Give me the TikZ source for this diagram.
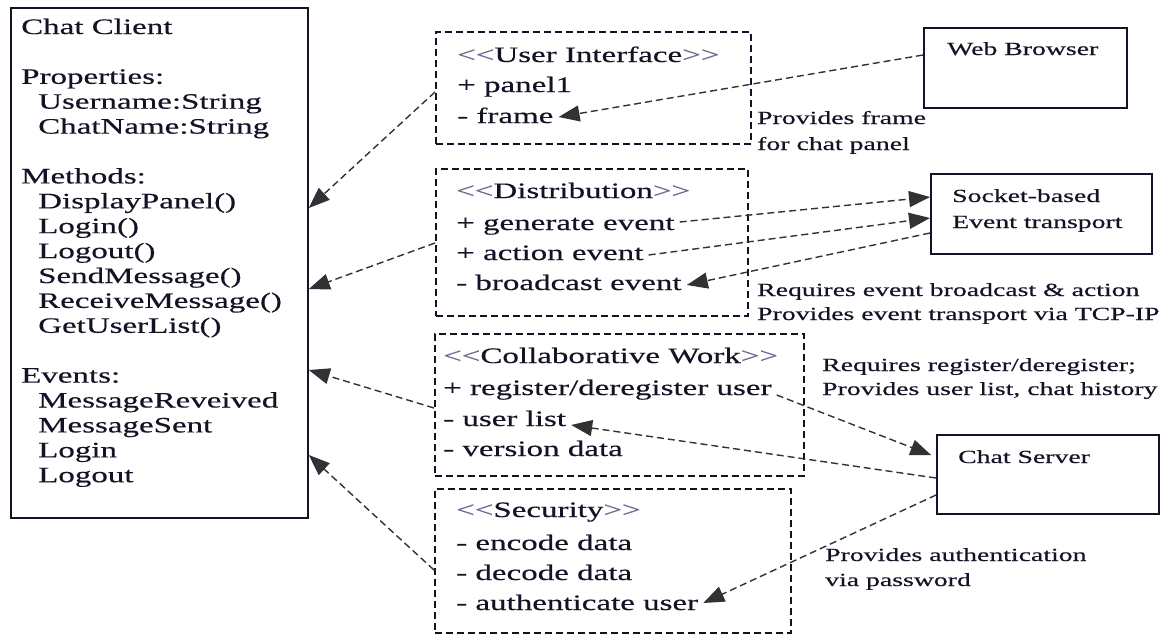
\documentclass[tikz,border=0pt]{standalone}
\usepackage{fontspec}
\setmainfont{Liberation Serif}[FakeStretch=1.5, FakeBold=0.4]
\usetikzlibrary{arrows.meta}

\definecolor{ink}{RGB}{22,18,38}
\definecolor{guil}{RGB}{110,105,145}
\definecolor{wire}{RGB}{50,50,50}

% stereotype name between light double angle brackets
\newcommand\stereo[1]{{\color{guil}<\kern0pt<}#1{\color{guil}>\kern0pt>}}

\begin{document}
\begin{tikzpicture}[x=1pt,y=-1pt,
  solidbox/.style={draw=ink, line width=1.8pt, inner sep=0pt, anchor=north west},
  dashbox/.style={draw=ink, line width=1.6pt, dash pattern=on 7pt off 4pt, inner sep=0pt, anchor=north west},
  txt/.style={anchor=base west, inner xsep=5pt, inner ysep=0pt, text=ink, font=\fontsize{22}{25}\selectfont},
  note/.style={anchor=base west, inner sep=0pt, text=ink, font=\fontsize{18.5}{24}\selectfont},
  dep/.style={draw=wire, line width=1.4pt, dash pattern=on 7pt off 4pt,
              -{Triangle[length=21pt,width=16pt]}}
]
\fill[white] (0,0) rectangle (1172,635);
\useasboundingbox (0,0) rectangle (1172,635);

% ---- component boxes
\node[solidbox, minimum width=297pt, minimum height=510pt] (client) at (10,7) {};
\node[dashbox, minimum width=315pt, minimum height=112pt] (ui) at (435,31) {};
\node[dashbox, minimum width=312pt, minimum height=147pt] (dist) at (435,168) {};
\node[dashbox, minimum width=369pt, minimum height=142pt] (collab) at (434,333) {};
\node[dashbox, minimum width=356pt, minimum height=144pt] (sec) at (434,488) {};
\node[solidbox, minimum width=203pt, minimum height=80pt] (wb) at (923,27) {};
\node[solidbox, minimum width=221pt, minimum height=80pt] (sock) at (930,173) {};
\node[solidbox, minimum width=222pt, minimum height=79pt] (srv) at (936,434) {};

% ---- chat client contents
\node[txt] (cc0)  at (16,34)    {Chat Client};
\node[txt] (cc1)  at (16,83.8)  {Properties:};
\node[txt] (cc2)  at (33,108.7) {Username:String};
\node[txt] (cc3)  at (33,133.6) {ChatName:String};
\node[txt] (cc4)  at (16,183.4) {Methods:};
\node[txt] (cc5)  at (33,208.3) {DisplayPanel()};
\node[txt] (cc6)  at (33,233.2) {Login()};
\node[txt] (cc7)  at (33,258.1) {Logout()};
\node[txt] (cc8)  at (33,283)   {SendMessage()};
\node[txt] (cc9)  at (33,307.9) {ReceiveMessage()};
\node[txt] (cc10) at (33,332.8) {GetUserList()};
\node[txt] (cc11) at (16,382.6) {Events:};
\node[txt] (cc12) at (33,407.5) {MessageReveived};
\node[txt] (cc13) at (33,432.4) {MessageSent};
\node[txt] (cc14) at (33,457.3) {Login};
\node[txt] (cc15) at (33,482.2) {Logout};

% ---- user interface
\node[txt] (ui0)   at (452,62)  {\stereo{User Interface}};
\node[txt] (panel) at (452,92)  {+ panel1};
\node[txt] (frame) at (452,123) {- frame};

% ---- distribution
\node[txt] (dist0) at (451,198) {\stereo{Distribution}};
\node[txt] (gen)   at (451,230) {+ generate event};
\node[txt] (act)   at (451,260) {+ action event};
\node[txt] (bcast) at (451,290) {- broadcast event};

% ---- collaborative work
\node[txt] (col0)  at (438,363) {\stereo{Collaborative Work}};
\node[txt] (reg)   at (438,395) {+ register/deregister user};
\node[txt] (ulist) at (438,426) {- user list};
\node[txt] (vdata) at (438,456) {- version data};

% ---- security
\node[txt] (sec0)  at (451,517) {\stereo{Security}};
\node[txt] (enc)   at (451,550) {- encode data};
\node[txt] (dec)   at (451,580) {- decode data};
\node[txt] (auth)  at (451,610) {- authenticate user};

% ---- external components
\node[note] (wbt)  at (947,55)  {Web Browser};
\node[note] (sk1)  at (952,202) {Socket-based};
\node[note] (sk2)  at (952,228) {Event transport};
\node[note] (srvt) at (958,463) {Chat Server};

% ---- annotations
\node[note] (n1) at (757,124) {Provides frame};
\node[note] (n2) at (757,150) {for chat panel};
\node[note] (n3) at (757,296) {Requires event broadcast \& action};
\node[note] (n4) at (757,320) {Provides event transport via TCP-IP};
\node[note] (n5) at (822,371) {Requires register/deregister;};
\node[note] (n6) at (822,395) {Provides user list, chat history};
\node[note] (n7) at (825,561) {Provides authentication};
\node[note] (n8) at (825,586) {via password};

% ---- dependencies on the chat client
\draw[dep] (ui.west |- 0,92)      -- (client.east |- 0,208);
\draw[dep] (dist.west |- 0,243)   -- (client.east |- 0,289);
\draw[dep] (collab.west |- 0,408) -- (client.east |- 0,370);
\draw[dep] (sec.west |- 0,570)    -- (client.east |- 0,455);

% ---- links to external components
\draw[dep] (wb.west |- 0,55) -- ([yshift=6pt]frame.base east);
\draw[dep] ([yshift=8pt]gen.base east) -- (sock.west |- 0,197);
\draw[dep] ([yshift=5pt]act.base east) -- (sock.west |- 0,218);
\draw[dep] (sock.west |- 0,233) -- ([yshift=5pt]bcast.base east);
\draw[dep, shorten >=5pt] (reg.base east) -- (srv.west |- 0,457);
\draw[dep] (srv.west |- 0,478) -- ([yshift=1pt]ulist.base east);
\draw[dep] (srv.west |- 0,495) -- ([yshift=7pt]auth.base east);
\end{tikzpicture}
\end{document}
